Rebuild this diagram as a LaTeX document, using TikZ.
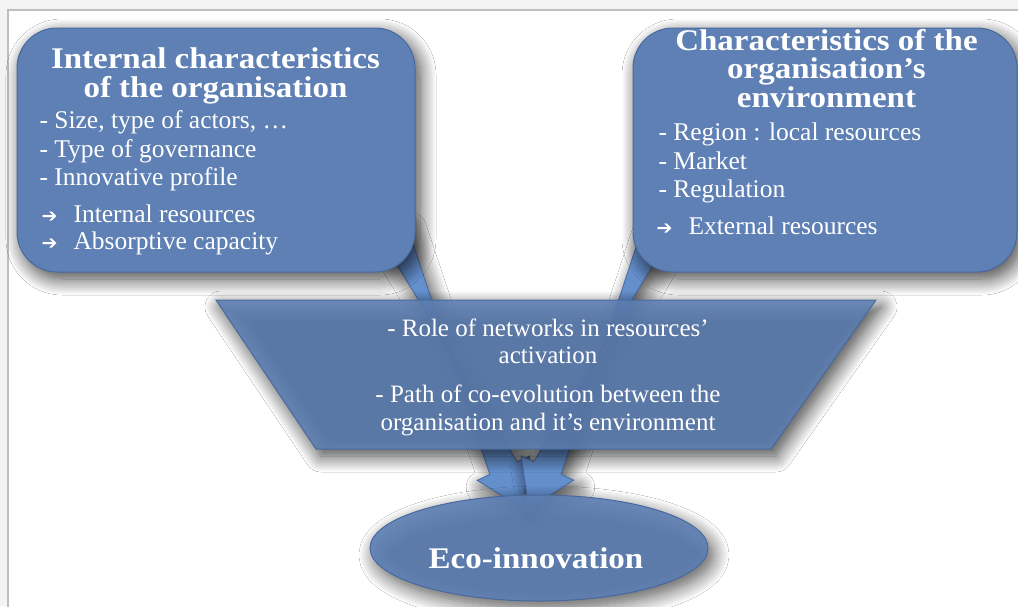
\documentclass[tikz,border=0pt]{standalone}
\usepackage{fontspec}
\setmainfont{Liberation Serif}
\newfontfamily\titlefont{Liberation Serif}[FakeStretch=1.1]
\newfontfamily\symfont{DejaVu Sans}
\usetikzlibrary{shapes.geometric,calc,shadows.blur}
\definecolor{bgout}{RGB}{243,243,243}
\definecolor{framegray}{RGB}{190,190,190}
\definecolor{bluefill}{RGB}{94,128,180}
\definecolor{blueedge}{RGB}{72,105,158}
\definecolor{arrowfill}{RGB}{100,143,205}
\tikzset{
  softshadow/.style={blur shadow={shadow xshift=5pt,shadow yshift=-7pt,shadow blur radius=16pt,shadow blur steps=16,shadow opacity=75}},
  bluebox/.style={draw=blueedge,line width=1pt,fill=bluefill,rounded corners=40pt,softshadow},
  blockarrow/.style={draw=blueedge,line width=0.8pt,fill=arrowfill,softshadow},
  title/.style={text=white,font=\titlefont\bfseries\fontsize{30}{28.5}\selectfont,align=center,anchor=base,inner sep=0pt},
  item/.style={text=white,font=\fontsize{25.5}{29}\selectfont,anchor=base west},
  mid/.style={text=white,font=\fontsize{25}{28}\selectfont,anchor=base},
  arrowsym/.style={text=white,font=\symfont\fontsize{19}{22}\selectfont,anchor=base west},
}
\begin{document}
\begin{tikzpicture}[x=1pt,y=-1pt]
\useasboundingbox (0,0) rectangle (1018,606);
\fill[bgout] (0,0) rectangle (1018,606);
\draw[framegray,fill=white,line width=1.2pt] (8,10) rectangle (1040,630);

% block arrows (behind the shapes)
\coordinate (ls) at (392,228);
\coordinate (lt) at (522,508);
\coordinate (rs) at (658,228);
\coordinate (rt) at (529,508);
\coordinate (lh) at ($(lt)!44pt!(ls)$);
\coordinate (rh) at ($(rt)!44pt!(rs)$);
\filldraw[blockarrow]
  ($(ls)!15pt!90:(lt)$) -- ($(lh)!15pt!-90:(lt)$) -- ($(lh)!29pt!-90:(lt)$) -- (lt)
  -- ($(lh)!29pt!90:(lt)$) -- ($(lh)!15pt!90:(lt)$) -- ($(ls)!15pt!-90:(lt)$) -- cycle;
\filldraw[blockarrow]
  ($(rs)!15pt!90:(rt)$) -- ($(rh)!15pt!-90:(rt)$) -- ($(rh)!29pt!-90:(rt)$) -- (rt)
  -- ($(rh)!29pt!90:(rt)$) -- ($(rh)!15pt!90:(rt)$) -- ($(rs)!15pt!-90:(rt)$) -- cycle;

% left box
\node[bluebox,minimum width=398pt,minimum height=244pt,inner sep=0pt] (int) at (216,150) {};
\node[title] (it) at (215.5,97) {Internal characteristics\\of the organisation};
\node[item] (i1) at (36,128) {- Size, type of actors, \dots};
\node[item] (i2) at (36,157) {- Type of governance};
\node[item] (i3) at (36,185) {- Innovative profile};
\node[arrowsym] (a1) at (38,222) {➔};
\node[item] (i4) at (70,222) {Internal resources};
\node[arrowsym] (a2) at (38,249) {➔};
\node[item] (i5) at (70,249) {Absorptive capacity};

% right box
\node[bluebox,minimum width=384pt,minimum height=244pt,inner sep=0pt] (ext) at (825,150) {};
\node[title] (et) at (826.5,107) {Characteristics of the\\organisation’s\\environment};
\node[item] (e1) at (655,140) {- Region : local resources};
\node[item] (e2) at (655,169) {- Market};
\node[item] (e3) at (655,197) {- Regulation};
\node[arrowsym] (a3) at (653,234) {➔};
\node[item] (e4) at (685,234) {External resources};

% trapezoid
\filldraw[draw=blueedge,line width=1pt,fill=bluefill,fill opacity=0.88,softshadow]
  (216,300) -- (876,300) -- (771,449) -- (316,449) -- cycle;
\node[mid] (m1) at (548,336) {- Role of networks in resources’};
\node[mid] (m2) at (548,363) {activation};
\node[mid] (m3) at (548,402) {- Path of co-evolution between the};
\node[mid] (m4) at (548,430) {organisation and it’s environment};

% ellipse
\node[ellipse,draw=blueedge,line width=1pt,fill=bluefill,fill opacity=0.9,softshadow,
      minimum width=338pt,minimum height=106pt,inner sep=0pt] (eco) at (539,548) {};
\node[title] (ecot) at (536,568) {Eco-innovation};
\end{tikzpicture}
\end{document}
